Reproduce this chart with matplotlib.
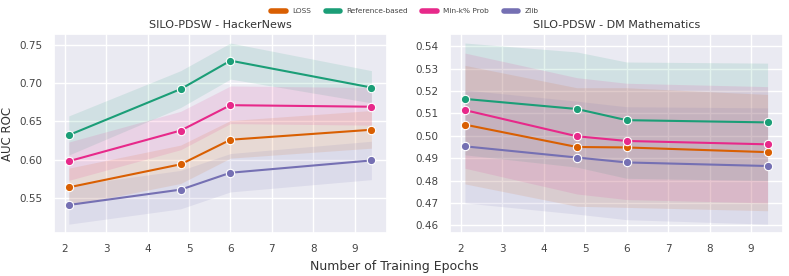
import numpy as np
import matplotlib
matplotlib.use("Agg")
import matplotlib.pyplot as plt
import seaborn as sns

sns.set_theme(style="darkgrid")

epochs = [2.1, 4.8, 6.0, 9.4]
methods = ["LOSS", "Reference-based", "Min-k% Prob", "Zlib"]
colors = ["#d95f02", "#1b9e77", "#e7298a", "#7570b3"]

# HackerNews
hn_mean = {
    "LOSS": [0.564, 0.594, 0.626, 0.639],
    "Reference-based": [0.632, 0.692, 0.729, 0.694],
    "Min-k% Prob": [0.598, 0.638, 0.671, 0.669],
    "Zlib": [0.541, 0.561, 0.583, 0.599],
}
hn_low = {
    "LOSS": [0.540, 0.569, 0.602, 0.615],
    "Reference-based": [0.606, 0.668, 0.705, 0.674],
    "Min-k% Prob": [0.573, 0.613, 0.647, 0.645],
    "Zlib": [0.516, 0.536, 0.558, 0.574],
}
hn_high = {
    "LOSS": [0.589, 0.619, 0.651, 0.664],
    "Reference-based": [0.657, 0.716, 0.752, 0.716],
    "Min-k% Prob": [0.623, 0.663, 0.696, 0.694],
    "Zlib": [0.566, 0.586, 0.608, 0.624],
}

# DM Mathematics
dm_mean = {
    "LOSS": [0.505, 0.495, 0.4948, 0.4927],
    "Reference-based": [0.5165, 0.512, 0.507, 0.506],
    "Min-k% Prob": [0.5115, 0.4998, 0.4977, 0.4962],
    "Zlib": [0.4953, 0.4903, 0.4881, 0.4865],
}
dm_low = {
    "LOSS": [0.4785, 0.4685, 0.468, 0.4665],
    "Reference-based": [0.4915, 0.486, 0.481, 0.480],
    "Min-k% Prob": [0.4855, 0.474, 0.4715, 0.470],
    "Zlib": [0.470, 0.465, 0.4625, 0.4605],
}
dm_high = {
    "LOSS": [0.5315, 0.5215, 0.5215, 0.5185],
    "Reference-based": [0.5415, 0.5375, 0.533, 0.5325],
    "Min-k% Prob": [0.537, 0.526, 0.5235, 0.522],
    "Zlib": [0.5205, 0.5155, 0.513, 0.5125],
}

panels = [
    ("SILO-PDSW - HackerNews", hn_mean, hn_low, hn_high),
    ("SILO-PDSW - DM Mathematics", dm_mean, dm_low, dm_high),
]

fig, axes = plt.subplots(1, 2, figsize=(7.89, 2.76), dpi=100)
fig.subplots_adjust(left=0.068, right=0.992, top=0.877, bottom=0.155, wspace=0.19)

for ax, (title, mean, low, high) in zip(axes, panels):
    for m, c in zip(methods, colors):
        ax.fill_between(epochs, low[m], high[m], color=c, alpha=0.12, linewidth=0)
        ax.plot(epochs, mean[m], color=c, lw=1.5, marker="o", markersize=6,
                markeredgecolor="white", markeredgewidth=0.8, label=m)
    ax.set_title(title, fontsize=8, pad=4, color="#333333")
    ax.tick_params(labelsize=7.5, pad=2, labelcolor="#444444")
    ax.set_xticks(range(2, 10))
    ax.yaxis.set_major_formatter(matplotlib.ticker.FormatStrFormatter("%.2f"))

axes[0].set_ylabel("AUC ROC", fontsize=8.5, color="#333333")

fig.supxlabel("Number of Training Epochs", fontsize=9, y=0.01, color="#333333")

handles = [plt.Line2D([], [], color=c, lw=4, solid_capstyle="round") for c in colors]
fig.legend(handles, methods, loc="upper center", ncol=4, fontsize=5.3, frameon=False,
           bbox_to_anchor=(0.513, 0.995), handlelength=2.0, handletextpad=0.8,
           columnspacing=2.0, labelcolor="#444444")

fig.savefig("out.png", dpi=100)
